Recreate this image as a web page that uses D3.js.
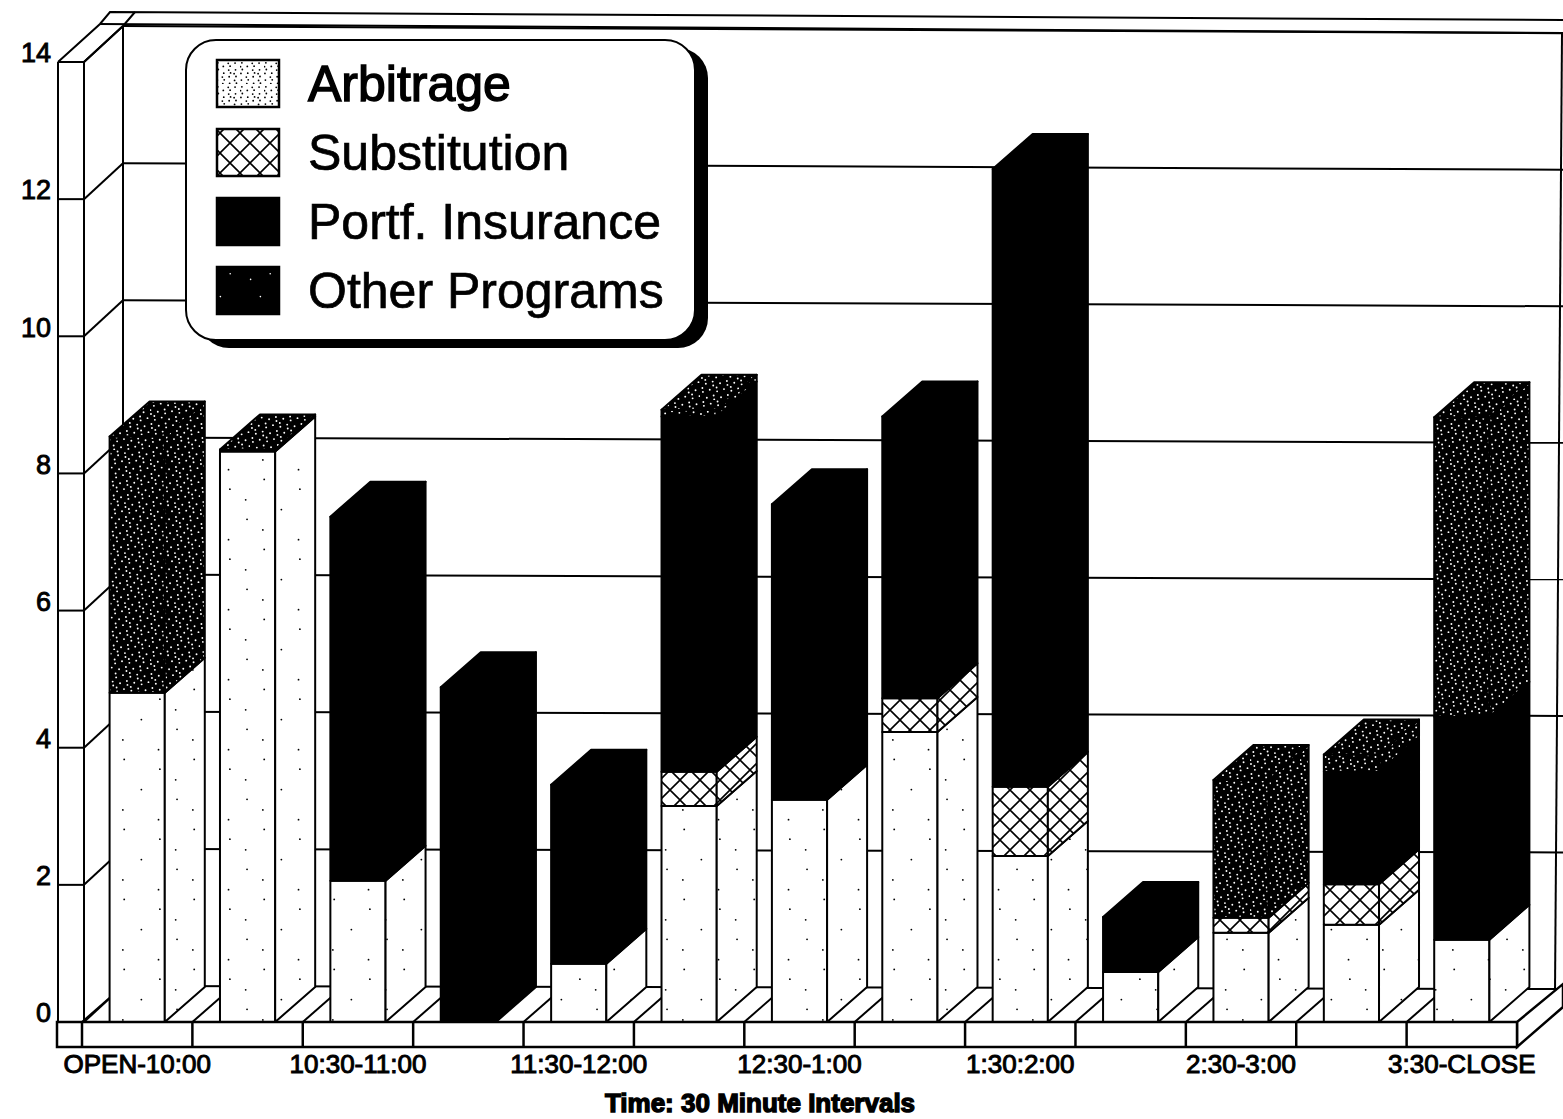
<!DOCTYPE html>
<html>
<head>
<meta charset="utf-8">
<script src="https://cdn.jsdelivr.net/npm/d3@7"></script>
<style>
  html, body { margin: 0; background: #fff; }
  svg { display: block; font-family: "Liberation Sans", sans-serif; }
</style>
</head>
<body>
<div class="svg-content"></div>
<script>
const categories = ["OPEN-10:00", "10:00-10:30", "10:30-11:00", "11:00-11:30", "11:30-12:00", "12:00-12:30", "12:30-1:00",
                    "1:00-1:30", "1:30:2:00", "2:00-2:30", "2:30-3:00", "3:00-3:30", "3:30-CLOSE"];
const xTickLabels = ["OPEN-10:00", "10:30-11:00", "11:30-12:00", "12:30-1:00", "1:30:2:00", "2:30-3:00", "3:30-CLOSE"];
const yTicks = [0, 2, 4, 6, 8, 10, 12, 14];

const seriesKeys = ["Arbitrage", "Substitution", "Portf. Insurance", "Other Programs"];
const arbitrage = [4.8, 8.32, 2.06, 0, 0.85, 3.15, 3.24, 4.23, 2.42, 0.73, 1.3, 1.42, 1.2];
const substitution = [0, 0, 0, 0, 0, 0.5, 0, 0.49, 1.01, 0, 0.22, 0.59, 0];
const portfInsurance = [0, 0, 5.31, 4.88, 2.61, 5.18, 4.31, 4.11, 9.01, 0.8, 0, 1.64, 3.25];
const otherPrograms = [3.74, 0.03, 0, 0, 0, 0.1, 0, 0, 0, 0, 2.01, 0.25, 4.37];

const svgWidth = 1563;
const svgHeight = 1119;

// depth of the fake 3D box
const depthX = 39;
const depthY = 36;
const barDepthX = 40;
const barDepthY = 35;

const xScale = d3.scaleBand()
                 .domain(categories)
                 .range([82, 1517])
                 .paddingInner(0.5)
                 .paddingOuter(0.25);

const yScale = d3.scaleLinear()
                 .domain([0, 14])
                 .range([1022, 62]);

const table = categories.map((c, i) => ({
  category: c,
  "Arbitrage": arbitrage[i],
  "Substitution": substitution[i],
  "Portf. Insurance": portfInsurance[i],
  "Other Programs": otherPrograms[i]
}));

const stacked = d3.stack().keys(seriesKeys)(table);

const svg = d3.select(".svg-content")
              .append("svg")
              .attr("width", svgWidth)
              .attr("height", svgHeight);

const defs = svg.append("defs");

// stipple tiles, dots spread with a low discrepancy walk so that the tile has no visible rows
function stipple(id, size, count, bg, dot, r) {
  const p = defs.append("pattern")
                .attr("id", id)
                .attr("patternUnits", "userSpaceOnUse")
                .attr("width", size)
                .attr("height", size);
  p.append("rect").attr("width", size).attr("height", size).attr("fill", bg);
  p.selectAll("circle")
   .data(d3.range(1, count + 1))
   .enter()
   .append("circle")
   .attr("cx", i => ((i * 0.7548777) % 1) * size)
   .attr("cy", i => ((i * 0.5698403) % 1) * size)
   .attr("r", r)
   .attr("fill", dot);
}

stipple("arbitrage-fill", 70, 7, "#fff", "#000", 0.9);
stipple("arbitrage-key", 24, 22, "#fff", "#000", 0.9);
stipple("other-fill", 50, 75, "#000", "#fff", 0.95);
stipple("other-key", 40, 3, "#000", "#fff", 0.8);

const hatch = defs.append("pattern")
                  .attr("id", "substitution-fill")
                  .attr("patternUnits", "userSpaceOnUse")
                  .attr("width", 20)
                  .attr("height", 20);
hatch.append("rect").attr("width", 20).attr("height", 20).attr("fill", "#fff");
hatch.append("path")
     .attr("d", "M0,0L20,20M20,0L0,20")
     .attr("stroke", "#000")
     .attr("stroke-width", 1.6);

const fills = {
  "Arbitrage": "url(#arbitrage-fill)",
  "Substitution": "url(#substitution-fill)",
  "Portf. Insurance": "#000",
  "Other Programs": "url(#other-fill)"
};
const keyFills = {
  "Arbitrage": "url(#arbitrage-key)",
  "Substitution": "url(#substitution-fill)",
  "Portf. Insurance": "#000",
  "Other Programs": "url(#other-key)"
};

const poly = points => "M" + points.map(p => p.join(",")).join("L") + "Z";
const seg = (x1, y1, x2, y2) => "M" + x1 + "," + y1 + "L" + x2 + "," + y2;

// the scan is slightly rotated, back wall lines drop a few pixels to the right
const backLeft = 84 + depthX;
const backRight = 1563;
const backDrop = v => 3 + v * 0.3;

const box = svg.append("g")
               .attr("fill", "none")
               .attr("stroke", "#000")
               .attr("stroke-width", 2);

// back wall grid
box.selectAll(".grid")
   .data(yTicks)
   .enter()
   .append("path")
   .attr("class", "grid")
   .attr("d", v => seg(backLeft, yScale(v) - depthY, backRight, yScale(v) - depthY + backDrop(v)));

// left wall
box.selectAll(".wall")
   .data(yTicks)
   .enter()
   .append("path")
   .attr("class", "wall")
   .attr("d", v => seg(84, yScale(v), backLeft, yScale(v) - depthY));

box.selectAll(".front-tick")
   .data(yTicks)
   .enter()
   .append("path")
   .attr("class", "front-tick")
   .attr("d", v => seg(58, yScale(v), 84, yScale(v)));

box.append("path").attr("d", seg(58, yScale(14), 58, 1047));
box.append("path").attr("d", seg(84, yScale(14), 84, 1047));
box.append("path").attr("d", seg(backLeft, yScale(14) - depthY, backLeft, yScale(0) - depthY));
box.append("path").attr("d", seg(1555, yScale(0) - depthY + 5, 1562, yScale(14) - depthY + 7));

// top rim
box.append("path").attr("d", "M58,62L100,24L110,12L1563,20");
box.append("path").attr("d", "M84,62L123,26L135,12");
box.append("path").attr("d", seg(100, 24, 1563, 33));

// floor
box.selectAll(".floor")
   .data(categories)
   .enter()
   .append("path")
   .attr("class", "floor")
   .attr("d", c => {
     const sx = xScale(c) - xScale.step() * 0.25;
     return seg(sx, yScale(0), sx + barDepthX, yScale(0) - barDepthY);
   });

// bars
const bars = svg.append("g")
                .attr("stroke", "#000")
                .attr("stroke-width", 2)
                .attr("stroke-linejoin", "round");

stacked.forEach(series => {
  const fill = fills[series.key];
  const layer = bars.append("g").attr("class", "layer").attr("fill", fill);
  const parts = series.filter(d => d[1] > d[0]);

  layer.selectAll(".front")
       .data(parts)
       .enter()
       .append("rect")
       .attr("class", "front")
       .attr("x", d => xScale(d.data.category))
       .attr("y", d => yScale(d[1]))
       .attr("width", xScale.bandwidth())
       .attr("height", d => yScale(d[0]) - yScale(d[1]));

  layer.selectAll(".side")
       .data(parts)
       .enter()
       .append("path")
       .attr("class", "side")
       .attr("d", d => {
         const x = xScale(d.data.category) + xScale.bandwidth();
         return poly([
           [x, yScale(d[0])],
           [x + barDepthX, yScale(d[0]) - barDepthY],
           [x + barDepthX, yScale(d[1]) - barDepthY],
           [x, yScale(d[1])]
         ]);
       });

  // the top face belongs to whichever series ends the stack
  layer.selectAll(".top")
       .data(parts.filter(d => {
         const i = categories.indexOf(d.data.category);
         const above = stacked.slice(series.index + 1).some(s => s[i][1] > s[i][0]);
         return !above;
       }))
       .enter()
       .append("path")
       .attr("class", "top")
       .attr("d", d => {
         const x = xScale(d.data.category);
         const w = xScale.bandwidth();
         const t = yScale(d[1]);
         return poly([
           [x, t],
           [x + barDepthX, t - barDepthY],
           [x + w + barDepthX, t - barDepthY],
           [x + w, t]
         ]);
       });
});

// base strip in front of everything
const base = svg.append("g")
                .attr("fill", "#fff")
                .attr("stroke", "#000")
                .attr("stroke-width", 2.5);

base.append("path").attr("d", poly([[1517, 1022], [1517, 1047], [1563, 1007], [1563, 984]]));
base.append("rect")
    .attr("x", 57)
    .attr("y", yScale(0))
    .attr("width", 1517 - 57)
    .attr("height", 1047 - yScale(0));

base.selectAll(".sep")
    .data(categories)
    .enter()
    .append("path")
    .attr("class", "sep")
    .attr("d", c => {
      const sx = xScale(c) - xScale.step() * 0.25;
      return seg(sx, yScale(0), sx, 1047);
    });

// legend
const legend = svg.append("g");

legend.append("rect")
      .attr("x", 199)
      .attr("y", 48)
      .attr("width", 509)
      .attr("height", 300)
      .attr("rx", 30)
      .attr("fill", "#000");

legend.append("rect")
      .attr("x", 186)
      .attr("y", 40)
      .attr("width", 509)
      .attr("height", 300)
      .attr("rx", 30)
      .attr("fill", "#fff")
      .attr("stroke", "#000")
      .attr("stroke-width", 2);

const legendRow = d3.scalePoint()
                    .domain(seriesKeys)
                    .range([84, 291]);

const legendItems = legend.selectAll(".legend-item")
                          .data(seriesKeys)
                          .enter()
                          .append("g")
                          .attr("class", "legend-item")
                          .attr("transform", k => "translate(0," + legendRow(k) + ")");

legendItems.append("rect")
           .attr("x", 217)
           .attr("y", -24)
           .attr("width", 62)
           .attr("height", 47)
           .attr("fill", k => keyFills[k])
           .attr("stroke", "#000")
           .attr("stroke-width", 2.5);

legendItems.append("text")
           .attr("x", 308)
           .attr("y", 17)
           .attr("font-size", 50)
           .attr("fill", "#000")
           .attr("stroke", "#000")
           .attr("stroke-width", k => k === "Arbitrage" ? 1.4 : 0.7)
           .text(k => k);

// axes
const yAxis = d3.axisLeft(yScale).tickValues(yTicks).tickSize(0).tickPadding(0);
const xAxis = d3.axisBottom(xScale).tickValues(xTickLabels).tickSize(0).tickPadding(0);

const yGroup = svg.append("g")
                  .attr("id", "y-axis")
                  .attr("transform", "translate(51, -10)")
                  .call(yAxis);
yGroup.select(".domain").remove();
yGroup.selectAll("text")
      .attr("font-size", 27)
      .attr("font-family", "Liberation Sans")
      .attr("stroke", "#000")
      .attr("stroke-width", 0.9)
      .attr("dy", "0.36em");

const xGroup = svg.append("g")
                  .attr("id", "x-axis")
                  .attr("transform", "translate(0, 1051)")
                  .call(xAxis);
xGroup.select(".domain").remove();
xGroup.selectAll("text")
      .attr("font-size", 26)
      .attr("font-family", "Liberation Sans")
      .attr("stroke", "#000")
      .attr("stroke-width", 1)
      .attr("dy", "0.85em");

svg.append("text")
   .attr("x", 760)
   .attr("y", 1112)
   .attr("text-anchor", "middle")
   .attr("font-size", 26)
   .attr("font-weight", "bold")
   .attr("stroke", "#000")
   .attr("stroke-width", 1.4)
   .text("Time: 30 Minute Intervals");
</script>
</body>
</html>
